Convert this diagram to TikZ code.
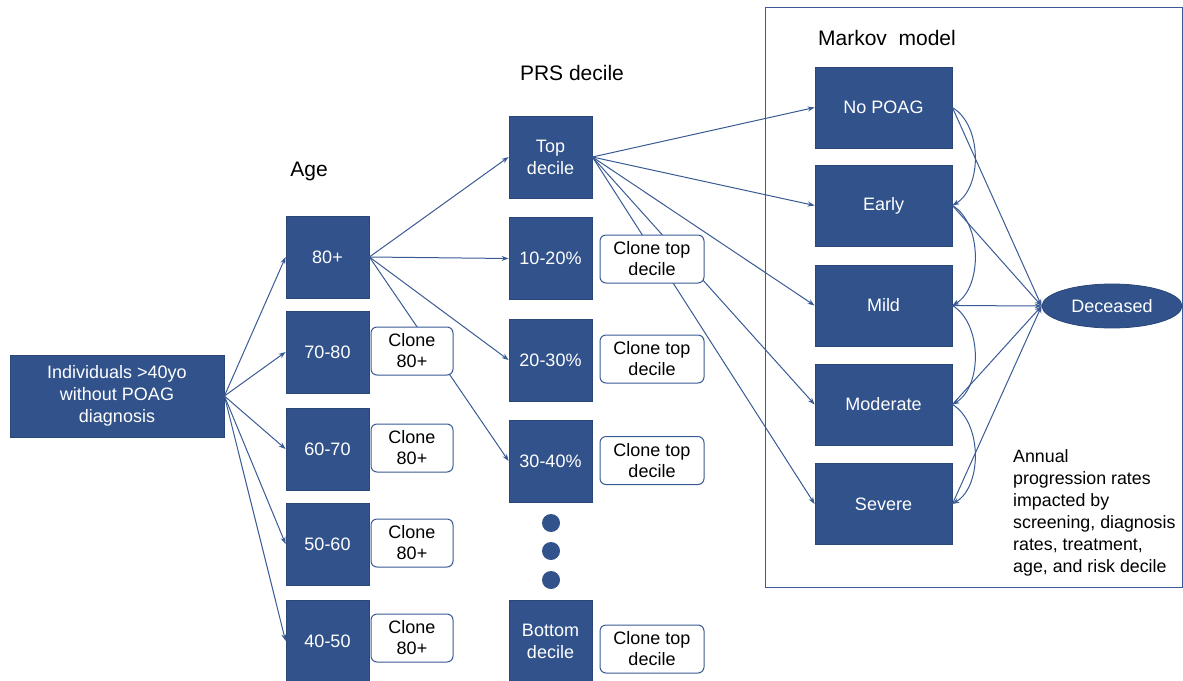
\documentclass[tikz,border=0pt]{standalone}
\usepackage{fontspec}
\setmainfont{Liberation Sans}
\usetikzlibrary{arrows.meta,shapes.geometric}
\definecolor{boxblue}{HTML}{31528B}
\definecolor{edgeblue}{HTML}{2A4778}
\definecolor{lineblue}{HTML}{3A5A94}
\tikzset{
  bluebox/.style={draw=edgeblue, line width=0.8pt, fill=boxblue, text=white, inner sep=0pt, align=center, font=\fontsize{18}{22}\selectfont},
  agebox/.style={bluebox, minimum width=83pt, minimum height=82pt},
  stbox/.style={bluebox, minimum width=137pt, minimum height=81pt},
  clonebox/.style={draw=lineblue, line width=1pt, fill=white, rounded corners=6pt, inner sep=0pt, align=center, text=black, font=\fontsize{18}{21}\selectfont},
  title/.style={font=\fontsize{21}{24}\selectfont, text=black, inner sep=0pt},
  conn/.style={draw=lineblue, line width=1pt, -{Stealth[length=7pt,width=5pt]}},
  dotc/.style={circle, fill=boxblue, minimum size=18pt, inner sep=0pt},
}
\begin{document}
\begin{tikzpicture}[x=1pt,y=-1pt]
\useasboundingbox (0,0) rectangle (1183,680);
% frame
\draw[draw=lineblue, line width=1pt] (765,7) rectangle (1182.5,587);
% titles
\node[title] (tAge) at (309,171) {Age};
\node[title] (tPRS) at (572,73) {PRS decile};
\node[title] (tMarkov) at (887,38) {Markov\ \ model};
% root
\node[bluebox, minimum width=214pt, minimum height=82pt] (root) at (117,396) {Individuals >40yo\\without POAG\\diagnosis};
% age boxes
\node[agebox] (a80) at (327.5,257) {80+};
\node[agebox] (a70) at (327.5,352) {70-80};
\node[agebox] (a60) at (327.5,449) {60-70};
\node[agebox] (a50) at (327.5,544) {50-60};
\node[agebox] (a40) at (327.5,641) {40-50};
% PRS boxes
\node[agebox] (ptop) at (550.5,157) {Top\\decile};
\node[agebox] (p10) at (550.5,258.5) {10-20\%};
\node[agebox] (p20) at (550.5,360) {20-30\%};
\node[agebox] (p30) at (550.5,461) {30-40\%};
\node[agebox] (pbot) at (550.5,641) {Bottom\\decile};
\node[dotc] (d1) at (551,523) {};
\node[dotc] (d2) at (551,551) {};
\node[dotc] (d3) at (551,580) {};
% Markov states
\node[stbox] (mno) at (883.5,107.5) {No POAG};
\node[stbox] (mearly) at (883.5,205.5) {Early};
\node[stbox] (mmild) at (883.5,305.5) {Mild};
\node[stbox] (mmod) at (883.5,404.5) {Moderate};
\node[stbox] (msev) at (883.5,504) {Severe};
\node[ellipse, fill=boxblue, draw=edgeblue, line width=0.8pt, text=white, minimum width=140pt, minimum height=44pt, inner sep=0pt, font=\fontsize{18}{22}\selectfont] (dec) at (1112,306) {Deceased};
% connectors root -> age
\foreach \t in {a80,a70,a60,a50,a40} \draw[conn] (root.east) -- (\t.west);
% 80+ -> PRS
\foreach \t in {ptop,p10,p20,p30} \draw[conn] (a80.east) -- (\t.west);
% top decile -> Markov
\foreach \t in {mno,mearly,mmild,mmod,msev} \draw[conn] (ptop.east) -- (\t.west);
% Markov -> deceased
\foreach \s in {mno,mearly,mmild,mmod,msev} \draw[conn] (\s.east) -- (dec.west);
% progression curves
\draw[conn] (mno.east) .. controls +(30,18) and +(30,-18) .. (mearly.east);
\draw[conn] (mearly.east) .. controls +(30,18) and +(30,-18) .. (mmild.east);
\draw[conn] (mmild.east) .. controls +(30,18) and +(30,-18) .. (mmod.east);
\draw[conn] (mmod.east) .. controls +(30,18) and +(30,-18) .. (msev.east);
% clone boxes (on top of lines)
\node[clonebox, minimum width=82pt, minimum height=48pt] (c70) at (412,351) {Clone\\80+};
\node[clonebox, minimum width=82pt, minimum height=48pt] (c60) at (412,448) {Clone\\80+};
\node[clonebox, minimum width=82pt, minimum height=48pt] (c50) at (412,543) {Clone\\80+};
\node[clonebox, minimum width=82pt, minimum height=48pt] (c40) at (412,638) {Clone\\80+};
\node[clonebox, minimum width=104pt, minimum height=48pt] (c10) at (652,259) {Clone top\\decile};
\node[clonebox, minimum width=104pt, minimum height=48pt] (c20) at (652,359) {Clone top\\decile};
\node[clonebox, minimum width=104pt, minimum height=48pt] (c30) at (652,460.5) {Clone top\\decile};
\node[clonebox, minimum width=104pt, minimum height=48pt] (cbot) at (652,649) {Clone top\\decile};
% annotation
\node[anchor=north west, align=left, inner sep=0pt, font=\fontsize{17.8}{22}\selectfont] (note) at (1013,449) {Annual\\progression rates\\impacted by\\screening, diagnosis\\rates, treatment,\\age, and risk decile};
\end{tikzpicture}
\end{document}
